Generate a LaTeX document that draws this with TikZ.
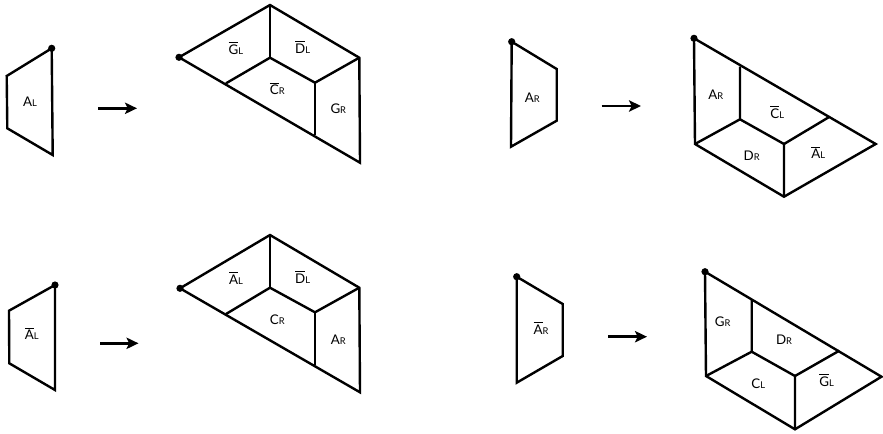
\documentclass[tikz,border=0pt]{standalone}
\usepackage{fontspec}
\setmainfont{Lato}
\usetikzlibrary{arrows.meta}
\newcommand{\ob}[1]{\setbox0\hbox{#1}\rlap{\smash{\raisebox{1.18\ht0}{\rule{\wd0}{0.6pt}}}}#1}
\newcommand{\lb}[2]{{\fontsize{10}{11}\selectfont #1}{\fontsize{7}{8}\selectfont #2}}
\tikzset{
  edge/.style={line width=1.8pt, line join=miter},
  arr/.style={line width=2.2pt, -{Stealth[length=9pt,width=8.5pt,inset=2pt]}},
  lab/.style={inner sep=0pt, anchor=center},
  dotv/.style={fill=black}
}
\begin{document}
\begin{tikzpicture}[x=0.75pt,y=-0.75pt]
\useasboundingbox (0,0) rectangle (883,433);
% ---------- Panel 1 ----------
\coordinate (a1) at (51.7,48.3); \coordinate (b1) at (6.7,76);
\coordinate (c1) at (7.3,128.3); \coordinate (d1) at (52.7,155);
\draw[edge] (a1) -- (b1) -- (c1) -- (d1) -- cycle;
\fill[dotv] (a1) circle (2.7pt);
\node[lab] (l1a) at (30,101.7) {\lb{A}{L}};
\coordinate (s1) at (98.3,108.3); \coordinate (e1) at (137,108.3);
\draw[arr] (s1) -- (e1);
\coordinate (L1) at (179,57.3); \coordinate (T1) at (270,5);
\coordinate (RT1) at (359.3,57.7); \coordinate (BR1) at (360,162.7);
\coordinate (IC1) at (270,57.7); \coordinate (IL1) at (226,83.3);
\coordinate (IR1) at (315,82.7); \coordinate (IB1) at (315,135);
\draw[edge] (L1) -- (T1) -- (RT1) -- (BR1) -- cycle;
\draw[edge] (T1) -- (IC1);
\draw[edge] (IL1) -- (IC1) -- (IR1) -- (RT1);
\draw[edge] (IR1) -- (IB1);
\fill[dotv] (L1) circle (2.7pt);
\node[lab] (l1b) at (236,49.3) {\lb{\ob{G}}{L}};
\node[lab] (l1c) at (302.7,48.3) {\lb{\ob{D}}{L}};
\node[lab] (l1d) at (277.3,90) {\lb{\ob{C}}{R}};
\node[lab] (l1e) at (338.3,108.3) {\lb{G}{R}};
% ---------- Panel 2 ----------
\coordinate (a2) at (511.7,41.7); \coordinate (b2) at (556.7,69);
\coordinate (c2) at (556.7,120.7); \coordinate (d2) at (511,146.7);
\draw[edge] (a2) -- (b2) -- (c2) -- (d2) -- cycle;
\fill[dotv] (a2) circle (2.7pt);
\node[lab] (l2a) at (532.3,97.3) {\lb{A}{R}};
\coordinate (s2) at (601.7,106); \coordinate (e2) at (641,106);
\draw[arr] (s2) -- (e2);
\coordinate (TL2) at (694,38.3); \coordinate (BL2) at (695,144);
\coordinate (B2) at (784,196.7); \coordinate (R2) at (875.7,144);
\coordinate (P12) at (740,66.5); \coordinate (P22) at (740,119.3);
\coordinate (P32) at (784,144); \coordinate (P42) at (828.3,117.5);
\draw[edge] (TL2) -- (R2) -- (B2) -- (BL2) -- cycle;
\draw[edge] (P12) -- (P22) -- (BL2);
\draw[edge] (P22) -- (P32) -- (B2);
\draw[edge] (P32) -- (P42);
\fill[dotv] (TL2) circle (2.7pt);
\node[lab] (l2b) at (715.7,95) {\lb{A}{R}};
\node[lab] (l2c) at (777.3,113.3) {\lb{\ob{C}}{L}};
\node[lab] (l2d) at (751.7,156) {\lb{D}{R}};
\node[lab] (l2e) at (818.3,154) {\lb{\ob{A}}{L}};
% ---------- Panel 3 ----------
\coordinate (a3) at (55,285); \coordinate (b3) at (9,310.7);
\coordinate (c3) at (9.3,363.3); \coordinate (d3) at (55,390);
\draw[edge] (a3) -- (b3) -- (c3) -- (d3) -- cycle;
\fill[dotv] (a3) circle (2.7pt);
\node[lab] (l3a) at (31.7,335) {\lb{\ob{A}}{L}};
\coordinate (s3) at (100,343.3); \coordinate (e3) at (138.5,343.3);
\draw[arr] (s3) -- (e3);
\coordinate (L3) at (180,288.3); \coordinate (T3) at (270,235);
\coordinate (RT3) at (359.3,287.7); \coordinate (BR3) at (360,392.3);
\coordinate (IC3) at (270,287.7); \coordinate (IL3) at (226,314);
\coordinate (IR3) at (315,312.3); \coordinate (IB3) at (315,365);
\draw[edge] (L3) -- (T3) -- (RT3) -- (BR3) -- cycle;
\draw[edge] (T3) -- (IC3);
\draw[edge] (IL3) -- (IC3) -- (IR3) -- (RT3);
\draw[edge] (IR3) -- (IB3);
\fill[dotv] (L3) circle (2.7pt);
\node[lab] (l3b) at (236,279.3) {\lb{\ob{A}}{L}};
\node[lab] (l3c) at (302.7,278.3) {\lb{\ob{D}}{L}};
\node[lab] (l3d) at (277.3,320) {\lb{C}{R}};
\node[lab] (l3e) at (338.3,339.3) {\lb{A}{R}};
% ---------- Panel 4 ----------
\coordinate (a4) at (516.7,276.7); \coordinate (b4) at (562.7,304);
\coordinate (c4) at (562.7,356); \coordinate (d4) at (516.7,382.7);
\draw[edge] (a4) -- (b4) -- (c4) -- (d4) -- cycle;
\fill[dotv] (a4) circle (2.7pt);
\node[lab] (l4a) at (541,329.3) {\lb{\ob{A}}{R}};
\coordinate (s4) at (608.3,336.7); \coordinate (e4) at (647,336.7);
\draw[arr] (s4) -- (e4);
\coordinate (TL4) at (705,271.7); \coordinate (BL4) at (706,376);
\coordinate (B4) at (795,429.3); \coordinate (R4) at (881.5,376.7);
\coordinate (P14) at (751.7,299.3); \coordinate (P24) at (751.7,351.7);
\coordinate (P34) at (795,376); \coordinate (P44) at (839.3,350.7);
\draw[edge] (TL4) -- (R4) -- (B4) -- (BL4) -- cycle;
\draw[edge] (P14) -- (P24) -- (BL4);
\draw[edge] (P24) -- (P34) -- (B4);
\draw[edge] (P34) -- (P44);
\fill[dotv] (TL4) circle (2.7pt);
\node[lab] (l4b) at (722.7,321.7) {\lb{G}{R}};
\node[lab] (l4c) at (784,340) {\lb{D}{R}};
\node[lab] (l4d) at (758.3,384) {\lb{C}{L}};
\node[lab] (l4e) at (826.7,381.7) {\lb{\ob{G}}{L}};
\end{tikzpicture}
\end{document}
